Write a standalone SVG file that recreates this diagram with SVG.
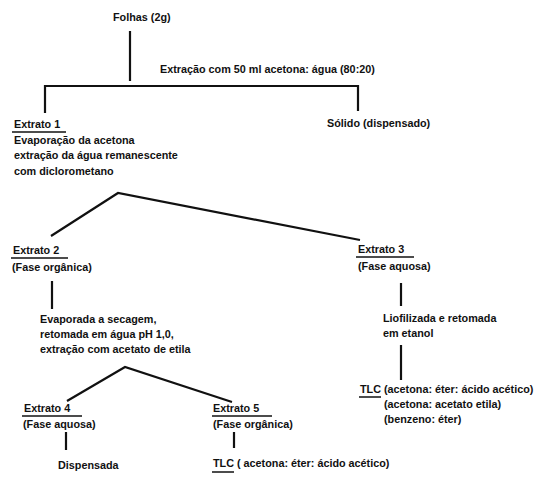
<svg xmlns="http://www.w3.org/2000/svg" width="550" height="485" viewBox="0 0 550 485">
<style>
text{font-family:"Liberation Sans",Arial,sans-serif;font-size:10.8px;font-weight:bold;fill:#111}
.c line,.c polyline{stroke:#111;stroke-width:2.2;fill:none;stroke-linecap:butt}
.u{stroke:#111;stroke-width:1.5}
</style>
<rect width="550" height="485" fill="#fff"/>
<g class="c" id="connectors">
<line x1="130" y1="31" x2="130" y2="81"/>
<polyline points="45,113 45,86 358,86 358,111"/>
<polyline points="51,236 118,193 360,240"/>
<line x1="52" y1="281" x2="52" y2="309"/>
<polyline points="67,401 125,367 232,402"/>
<line x1="66" y1="432" x2="66" y2="450"/>
<line x1="234" y1="432" x2="234" y2="448"/>
<line x1="401" y1="283" x2="401" y2="306"/>
<line x1="401" y1="345" x2="401" y2="380"/>
</g>
<g id="folhas"><text x="113" y="21">Folhas (2g)</text></g>
<g id="extracao-label"><text x="160" y="73">Extração com 50 ml acetona: água (80:20)</text></g>
<g id="extrato1"><text x="14" y="128">Extrato 1</text><line class="u" x1="12" y1="132" x2="66" y2="132"/>
<text x="14" y="144">Evaporação da acetona</text>
<text x="14" y="159">extração da água remanescente</text>
<text x="14" y="175">com diclorometano</text></g>
<g id="solido"><text x="327" y="127">Sólido (dispensado)</text></g>
<g id="extrato2"><text x="13" y="254">Extrato 2</text><line class="u" x1="11" y1="258" x2="68" y2="258"/>
<text x="12" y="271">(Fase orgânica)</text></g>
<g id="evaporada"><text x="40" y="323">Evaporada a secagem,</text>
<text x="40" y="338">retomada em água pH 1,0,</text>
<text x="40" y="353">extração com acetato de etila</text></g>
<g id="extrato3"><text x="358" y="253">Extrato 3</text><line class="u" x1="356" y1="257" x2="414" y2="257"/>
<text x="358" y="270">(Fase aquosa)</text></g>
<g id="liofilizada"><text x="383" y="322">Liofilizada e retomada</text>
<text x="383" y="337">em etanol</text></g>
<g id="tlc1"><text x="360" y="393">TLC (acetona: éter: ácido acético)</text><line class="u" x1="359" y1="397" x2="381" y2="397"/>
<text x="384" y="408">(acetona: acetato etila)</text>
<text x="384" y="423">(benzeno: éter)</text></g>
<g id="extrato4"><text x="24" y="412">Extrato 4</text><line class="u" x1="22" y1="416" x2="82" y2="416"/>
<text x="23" y="428">(Fase aquosa)</text></g>
<g id="dispensada"><text x="58" y="469">Dispensada</text></g>
<g id="extrato5"><text x="213" y="412">Extrato 5</text><line class="u" x1="212" y1="416" x2="272" y2="416"/>
<text x="213" y="428">(Fase orgânica)</text></g>
<g id="tlc2"><text x="213" y="467">TLC ( acetona: éter: ácido acético)</text><line class="u" x1="212" y1="472" x2="234" y2="472"/></g>
</svg>
